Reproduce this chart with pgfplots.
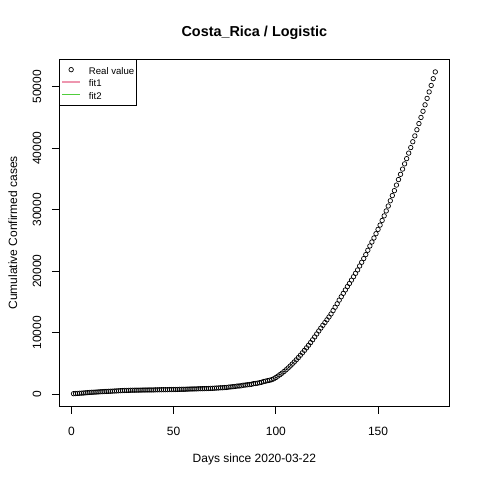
\documentclass[border=0pt]{standalone}
\usepackage{fontspec}
\setmainfont{Liberation Sans}
\usepackage{pgfplots}
\pgfplotsset{compat=1.18}
\usepackage{pgfplotstable}
\definecolor{fitpink}{RGB}{238,150,175}
\definecolor{fitgreen}{RGB}{80,205,60}
\pgfplotsset{
  lineleg/.style={legend image code/.code={\draw[##1] (0bp,0bp) -- (18bp,0bp);}},
  markleg/.style={legend image code/.code={\draw[##1, mark repeat=2, mark phase=2] plot coordinates {(0bp,0bp) (9bp,0bp) (18bp,0bp)};}},
}
\pgfplotstableread{
day cases
1 87
2 113
3 134
4 158
5 177
6 201
7 231
8 263
9 295
10 314
11 330
12 347
13 375
14 396
15 416
16 435
17 454
18 467
19 483
20 502
21 522
22 539
23 558
24 577
25 595
26 612
27 618
28 626
29 642
30 649
31 655
32 660
33 662
34 669
35 681
36 686
37 687
38 693
39 695
40 697
41 713
42 719
43 725
44 733
45 739
46 739
47 742
48 755
49 761
50 765
51 773
52 780
53 792
54 801
55 804
56 815
57 830
58 843
59 853
60 863
61 866
62 882
63 897
64 903
65 911
66 918
67 930
68 951
69 956
70 984
71 1000
72 1022
73 1047
74 1056
75 1084
76 1105
77 1157
78 1194
79 1228
80 1263
81 1318
82 1342
83 1375
84 1461
85 1490
86 1538
87 1565
88 1612
89 1715
90 1744
91 1796
92 1871
93 1939
94 2058
95 2127
96 2213
97 2277
98 2368
99 2515
100 2720
101 2950
102 3180
103 3420
104 3690
105 3970
106 4270
107 4580
108 4900
109 5240
110 5590
111 5960
112 6340
113 6730
114 7130
115 7540
116 7960
117 8400
118 8850
119 9320
120 9800
121 10280
122 10750
123 11200
124 11650
125 12100
126 12560
127 13050
128 13600
129 14150
130 14700
131 15300
132 15850
133 16400
134 16950
135 17500
136 18000
137 18550
138 19100
139 19650
140 20200
141 20850
142 21450
143 22050
144 22700
145 23400
146 24100
147 24750
148 25400
149 26100
150 26800
151 27500
152 28250
153 29000
154 29800
155 30600
156 31450
157 32300
158 33100
159 34000
160 34900
161 35750
162 36600
163 37450
164 38300
165 39200
166 40100
167 41050
168 42000
169 43000
170 44000
171 45000
172 46000
173 47050
174 48100
175 49150
176 50200
177 51300
178 52400
}\datatable
\begin{document}
\begin{tikzpicture}
\useasboundingbox (0,0) rectangle (480bp,480bp);
\begin{axis}[
  at={(59.04bp,73.44bp)}, anchor=south west,
  width=390.7bp, height=347.5bp, scale only axis,
  xmin=-6.08, xmax=185.08, ymin=-2005, ymax=54492,
  xtick={0,50,100,150}, ytick={0,10000,20000,30000,40000,50000},
  scaled ticks=false,
  /pgf/number format/assume math mode=true,
  /pgf/number format/1000 sep={},
  tick align=outside, major tick length=7.2bp,
  tick pos=left,
  axis line style={line width=0.75bp, black},
  every tick/.style={black, line width=0.75bp},
  tick label style={font=\fontsize{12bp}{14bp}\selectfont},
  xticklabel style={yshift=-13bp, anchor=north, inner sep=0pt},
  yticklabel style={xshift=-10.5bp, rotate=90, anchor=south, inner sep=0pt},
  lineleg,
  legend style={at={(0,1)}, anchor=north west, draw=black, line width=0.75bp,
    fill=white, font=\fontsize{9.6bp}{11bp}\selectfont,
    inner xsep=2bp, inner ysep=4bp, row sep=0bp, column sep=8bp,
    nodes={inner sep=0pt},
    /tikz/every even column/.append style={text height=11bp, text depth=1bp}},
  legend cell align=left,
]
\addplot[only marks, mark=o, mark size=2.25bp, black, line width=0.7bp, markleg]
  table[x=day, y=cases] {\datatable};
\addlegendentry{Real value}
\addlegendimage{color=fitpink, line width=1.5bp, lineleg}
\addlegendentry{fit1}
\addlegendimage{color=fitgreen, line width=1.5bp, lineleg}
\addlegendentry{fit2}
\end{axis}
\node[anchor=base, font=\fontsize{14.4bp}{16bp}\selectfont\bfseries] at (254.4bp,443.8bp) {Costa\_Rica / Logistic};
\node[anchor=base, font=\fontsize{12bp}{14bp}\selectfont] at (254.4bp,17.4bp) {Days since 2020-03-22};
\node[anchor=base, rotate=90, font=\fontsize{12bp}{14bp}\selectfont] at (17bp,247.2bp) {Cumulative Confirmed cases};
\end{tikzpicture}
\end{document}
